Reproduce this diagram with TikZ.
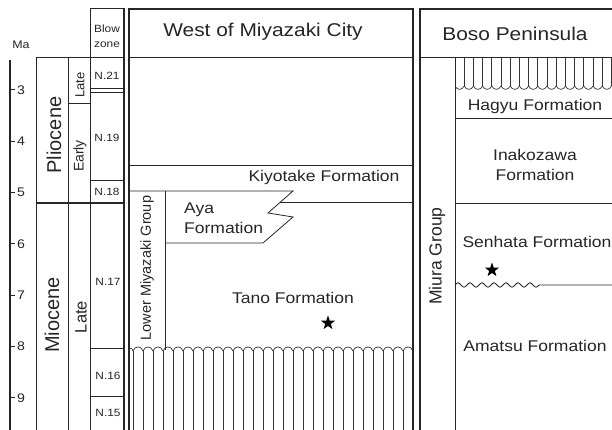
\documentclass[tikz,border=0pt]{standalone}
\usepackage{fontspec}
\setmainfont{Liberation Sans}
\usepackage{graphicx}
\usetikzlibrary{shapes.geometric}
\newcommand{\hs}[1]{\scalebox{1.13}[1]{#1}}
\tikzset{
  ln/.style={line width=0.8pt, draw=black!85},
  thin hatch/.style={line width=0.7pt, draw=black!80},
  bd/.style={line width=1.3pt, draw=black!85},
  fm/.style={font=\fontsize{15.5}{20}\selectfont, inner sep=0pt, text=black!85},
  hd/.style={font=\fontsize{18.5}{20}\selectfont, inner sep=0pt, text=black!85},
  bz/.style={font=\fontsize{10.5}{15}\selectfont, inner sep=0pt, text=black!85},
  rot/.style={rotate=90, inner sep=0pt, text=black!85},
  tk/.style={font=\fontsize{12.5}{13}\selectfont, inner sep=0pt, anchor=west, text=black!85},
  starmark/.style={star, star points=5, star point ratio=2.5, fill=black, draw=none, inner sep=0pt, minimum size=15pt},
}
\begin{document}
\begin{tikzpicture}[x=1pt,y=-1pt]
\useasboundingbox (0,0) rectangle (612,430);
\fill[white] (0,0) rectangle (612,430);

% time axis
\draw[line width=1.6pt, black!85] (10,60) -- (10,430);
\foreach \m in {3,...,9} {
  \pgfmathsetmacro\yy{90+(\m-3)*51.3}
  \draw[line width=1pt, black!85] (10,\yy) -- (15,\yy);
  \node[tk] (t\m) at (17,\yy) {\hs{\m}};
}
\node[font=\fontsize{11}{12}\selectfont, inner sep=0pt, text=black!85] (ma) at (21,45) {\hs{Ma}};

% left chronology columns
\draw[ln] (36,57) -- (124,57);
\draw[ln] (36,57) -- (36,430);
\draw[ln] (68,57) -- (68,430);
\draw[ln] (90,8) -- (90,430);
\draw[ln] (90,8) -- (124,8);
\draw[bd] (124,8) -- (124,430);
\draw[line width=1.1pt, black!85] (36,203) -- (124,203);
\draw[ln] (68,103) -- (90,103);
\foreach \yy in {88,92,180,348,396} { \draw[ln] (90,\yy) -- (124,\yy); }

\node[rot, font=\fontsize{20}{20}\selectfont] (plio) at (54,135) {Pliocene};
\node[rot, font=\fontsize{20}{20}\selectfont] (mio) at (52,315) {Miocene};
\node[rot, font=\fontsize{13}{13}\selectfont] (latep) at (80,85) {Late};
\node[rot, font=\fontsize{14}{14}\selectfont] (early) at (80,156) {Early};
\node[rot, font=\fontsize{16.5}{17}\selectfont] (latem) at (81,317) {Late};

\node[bz, align=center] (blow) at (107,36) {\hs{Blow}\\\hs{zone}};
\node[bz] (n21) at (107,76) {\hs{N.21}};
\node[bz] (n19) at (107,138) {\hs{N.19}};
\node[bz] (n18) at (107,192) {\hs{N.18}};
\node[bz] (n17) at (108,282) {\hs{N.17}};
\node[bz] (n16) at (108,376) {\hs{N.16}};
\node[bz] (n15) at (108,413) {\hs{N.15}};

% West of Miyazaki City panel
\draw[bd] (129,430) -- (129,9) -- (413,9) -- (413,430);
\draw[ln] (129,57) -- (413,57);
\draw[ln] (129,165) -- (413,165);
\draw[ln] (129,191) -- (293,191) -- (268,213) -- (293,217) -- (263,243) -- (165,243);
\draw[ln] (280,202) -- (413,202);
\draw[ln] (165,191) -- (165,350);
% hatched unconformity
\draw[thin hatch] (129,351) .. controls (130,347.5) and (132,347.5) .. (133,351);
\foreach \i in {0,...,27} {
  \draw[thin hatch] ({133+10*\i},351) -- ({133+10*\i},430);
  \draw[thin hatch] ({133+10*\i},351) .. controls ({135+10*\i},345.5) and ({141+10*\i},345.5) .. ({143+10*\i},351);
}

\node[hd] (westh) at (263,32) {\hs{West of Miyazaki City}};
\node[fm] (kiyo) at (324,177) {\hs{Kiyotake Formation}};
\node[fm, align=left, anchor=west] (aya) at (184,218) {\hs{Aya}\\\hs{Formation}};
\node[fm] (tano) at (293,298) {\hs{Tano Formation}};
\node[starmark] (s1) at (328,323) {};
\node[rot, font=\fontsize{14.5}{15}\selectfont] (lmg) at (147,268) {Lower Miyazaki Group};

% Boso Peninsula panel
\draw[bd] (420,430) -- (420,9) -- (612,9);
\draw[ln] (420,57) -- (612,57);
\draw[ln] (455,57) -- (455,430);
\draw[ln] (455,118) -- (612,118);
\draw[ln] (455,203) -- (612,203);
\foreach \i in {0,...,16} {
  \draw[thin hatch] ({455+9.2*\i},86) .. controls ({457+9.2*\i},90.5) and ({462.2+9.2*\i},90.5) .. ({464.2+9.2*\i},86);
}
\foreach \i in {1,...,17} {
  \draw[thin hatch] ({455+9.2*\i},57) -- ({455+9.2*\i},86);
}
\draw[ln] (455,285) \foreach \k in {0,...,6} { sin ++(3,-2.2) cos ++(3,2.2) sin ++(3,2.2) cos ++(3,-2.2) } -- (612,285);

\node[hd] (bosoh) at (515,34) {\hs{Boso Peninsula}};
\node[fm] (hagyu) at (535,106) {\hs{Hagyu Formation}};
\node[fm, align=center] (inak) at (535,165) {\hs{Inakozawa}\\\hs{Formation}};
\node[fm] (senh) at (537,242) {\hs{Senhata Formation}};
\node[starmark] (s2) at (492,270) {};
\node[fm] (amat) at (535,346) {\hs{Amatsu Formation}};
\node[rot, font=\fontsize{17.5}{18}\selectfont] (miura) at (437,256) {Miura Group};
\end{tikzpicture}
\end{document}
